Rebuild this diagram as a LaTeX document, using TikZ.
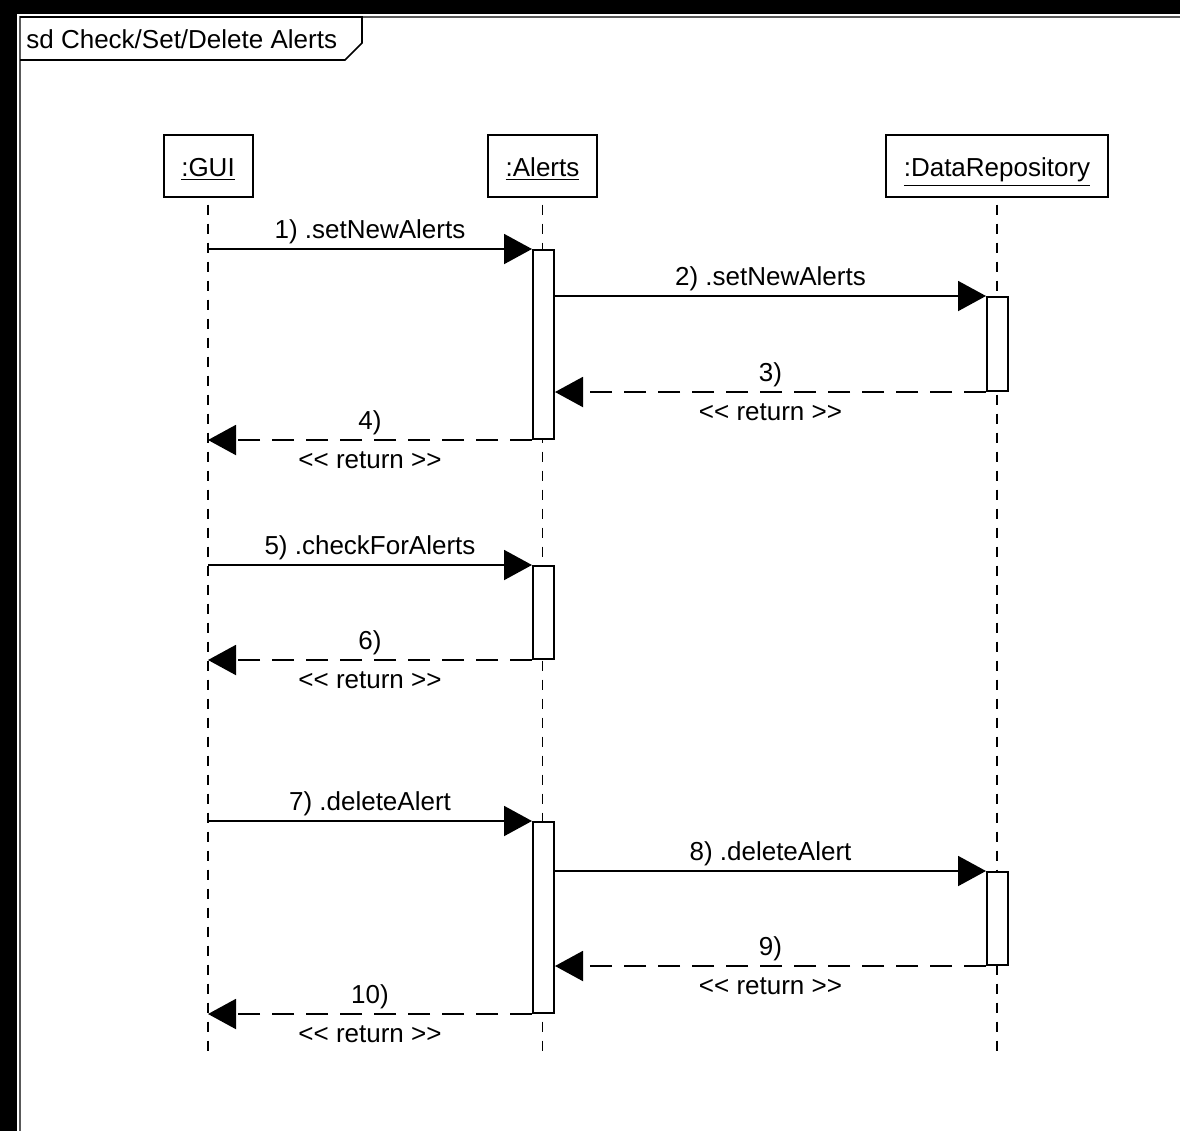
\documentclass[tikz,border=0pt]{standalone}
\usepackage{fontspec}
\setmainfont{Liberation Sans}
\usetikzlibrary{arrows.meta}
\begin{document}
\begin{tikzpicture}[x=0.5pt,y=-0.5pt,
  txt/.style={font=\fontsize{13}{15}\selectfont},
  head/.style={txt,draw,line width=1pt,fill=white,inner sep=0,minimum height=31pt,text height=13pt,text depth=1.7pt},
  act/.style={draw,fill=white,line width=1pt,minimum width=10.5pt,anchor=north,inner sep=0},
  life/.style={line width=0.8pt,dash pattern=on 5pt off 4.5pt,dash phase=-3.5pt},
  tipstyle/.style={-{Triangle[length=14pt,width=15pt]}},
  call/.style={line width=1pt,tipstyle},
  ret/.style={line width=1pt,dash pattern=on 11pt off 6pt,tipstyle},
  lbl/.style={txt,anchor=base,inner sep=0},
]
\useasboundingbox (0,0) rectangle (1180,1131);
% outer border
\fill[black] (0,0) rectangle (1180,14);
\fill[black] (0,0) rectangle (17,1131);
\draw[gray!70!black,line width=0.8pt] (20,1131) -- (20,17) -- (1180,17);
% title
\draw[line width=0.8pt] (20,17) -- (362,17) -- (362,43) -- (345,60) -- (20,60);
\node[txt,anchor=west,inner sep=0] (title) at (26,39) {sd Check/Set/Delete Alerts};
% heads
\node[head,minimum width=44.5pt] (gui) at (208,165.5) {\underline{:GUI}};
\node[head,minimum width=54.5pt] (alerts) at (542.5,165.5) {\underline{:Alerts}};
\node[head,minimum width=111pt] (dr) at (997,165.5) {\underline{:DataRepository}};
\coordinate (lifeend) at (0,1052);
% lifelines
\draw[life] (gui.south) -- (gui.south |- lifeend);
\draw[life] (alerts.south) -- (alerts.south |- lifeend);
\draw[life] (dr.south) -- (dr.south |- lifeend);
% activations
\node[act,minimum height=94.5pt] (a1) at (543.5,249) {};
\node[act,minimum height=47pt] (d1) at (997.5,296) {};
\node[act,minimum height=46.5pt] (a2) at (543.5,565) {};
\node[act,minimum height=95.5pt] (a3) at (543.5,821) {};
\node[act,minimum height=46.5pt] (d2) at (997.5,871) {};
% messages
\draw[call] (gui.south |- a1.north west) -- node[lbl,midway,yshift=5.5pt] {1) .setNewAlerts} (a1.north west);
\draw[call] (a1.east |- d1.north west) -- node[lbl,midway,yshift=5.5pt] {2) .setNewAlerts} (d1.north west);
\draw[ret] (d1.south west) -- node[lbl,midway,yshift=5.5pt] {3)} node[lbl,midway,yshift=-14pt] {<\kern0pt< return >\kern0pt>} (a1.east |- d1.south west);
\draw[ret] (a1.south west) -- node[lbl,midway,yshift=5.5pt] {4)} node[lbl,midway,yshift=-14pt] {<\kern0pt< return >\kern0pt>} (gui.south |- a1.south west);
\draw[call] (gui.south |- a2.north west) -- node[lbl,midway,yshift=5.5pt] {5) .checkForAlerts} (a2.north west);
\draw[ret] (a2.south west) -- node[lbl,midway,yshift=5.5pt] {6)} node[lbl,midway,yshift=-14pt] {<\kern0pt< return >\kern0pt>} (gui.south |- a2.south west);
\draw[call] (gui.south |- a3.north west) -- node[lbl,midway,yshift=5.5pt] {7) .deleteAlert} (a3.north west);
\draw[call] (a3.east |- d2.north west) -- node[lbl,midway,yshift=5.5pt] {8) .deleteAlert} (d2.north west);
\draw[ret] (d2.south west) -- node[lbl,midway,yshift=5.5pt] {9)} node[lbl,midway,yshift=-14pt] {<\kern0pt< return >\kern0pt>} (a3.east |- d2.south west);
\draw[ret] (a3.south west) -- node[lbl,midway,yshift=5.5pt] {10)} node[lbl,midway,yshift=-14pt] {<\kern0pt< return >\kern0pt>} (gui.south |- a3.south west);
\end{tikzpicture}
\end{document}
